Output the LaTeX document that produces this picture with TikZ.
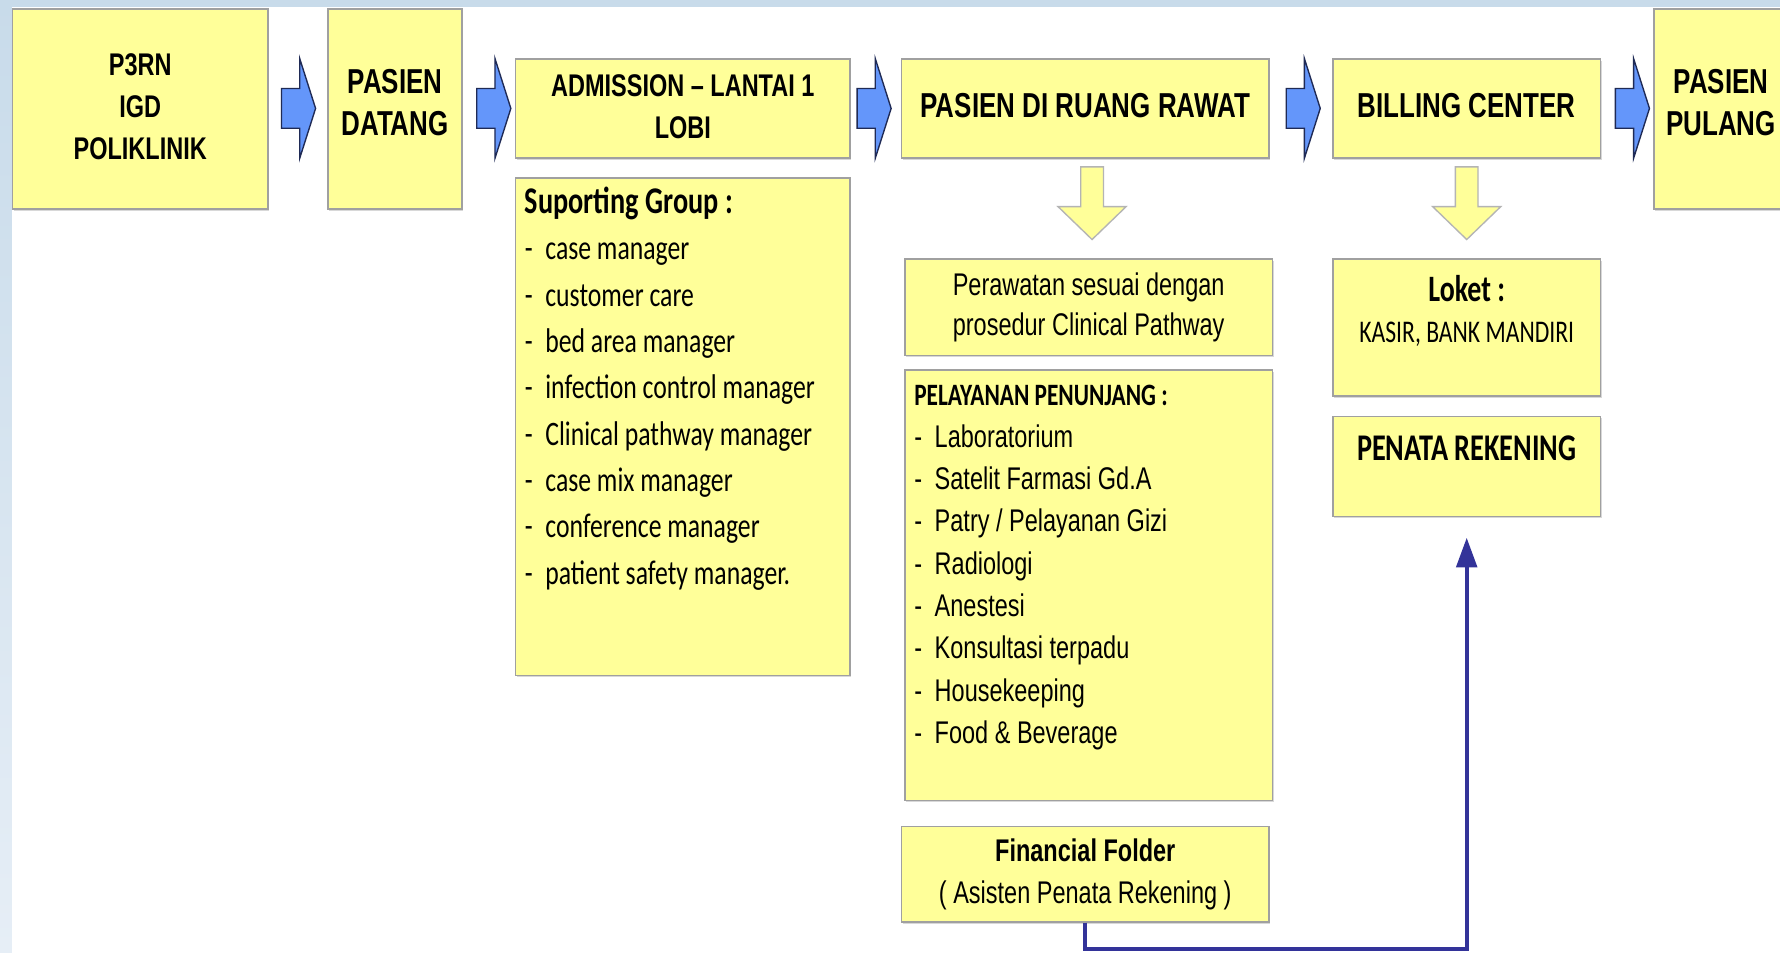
\documentclass[tikz,border=0pt]{standalone}
\usepackage{fontspec}
\usetikzlibrary{arrows.meta,shadows}
\newfontfamily\arialf[FakeStretch=0.75,Ligatures=TeX]{Liberation Sans}
\newfontfamily\calf[FakeStretch=0.75,Ligatures=TeX]{Carlito}
\newcommand\fbig{\arialf\bfseries\fontsize{15.25}{18.5}\selectfont}
\newcommand\fmid{\arialf\bfseries\fontsize{13.8}{18.5}\selectfont}
\definecolor{boxyellow}{HTML}{FFFF99}
\definecolor{boxline}{HTML}{A0A0A0}
\definecolor{arrblue}{HTML}{6496FA}
\definecolor{arrline}{HTML}{1F2A55}
\definecolor{connblue}{HTML}{333399}
\definecolor{bandblue}{HTML}{C8DBEA}
\definecolor{bandlight}{HTML}{E6EEF6}
\definecolor{darrline}{HTML}{B4B4B4}
\begin{document}
\begin{tikzpicture}[x=0.5pt,y=-0.5pt,
  ybox/.style={draw=boxline, line width=0.7pt, fill=boxyellow, inner sep=0pt, align=center,
    drop shadow={shadow xshift=0.5pt, shadow yshift=-0.8pt, opacity=0.3}},
  supitem/.style={anchor=base west, inner sep=0pt, font=\calf\fontsize{15.1}{18}\selectfont},
  pelitem/.style={anchor=base west, inner sep=0pt, font=\arialf\fontsize{13.8}{18}\selectfont},
  conn/.style={draw=connblue, line width=1.75pt, -{Triangle[length=13pt,width=9pt]}, shorten >=9pt},
  barrow/.pic={\filldraw[fill=arrblue, draw=arrline, line width=0.6pt]
      (0,-17.5) -- (16,-17.5) -- (16,-44) -- (30,0) -- (16,44) -- (16,17.5) -- (0,17.5) -- cycle;},
  darrow/.pic={\filldraw[fill=boxyellow, draw=darrline, line width=0.6pt]
      (-10,0) -- (10,0) -- (10,35) -- (30,35) -- (0,64) -- (-30,35) -- (-10,35) -- cycle;}
]
\useasboundingbox (0,0) rectangle (1568,839);
\clip (0,0) rectangle (1568,839);
\fill[white] (0,0) rectangle (1568,839);
\shade[top color=bandblue, bottom color=bandlight] (0,0) rectangle (10.5,839);
\fill[bandblue] (0,0) rectangle (1568,6);

% top row
\node[ybox, minimum width=112.5pt, minimum height=88pt, font=\fmid] (p3rn) at (123.5,96) {P3RN\\IGD\\POLIKLINIK\\[-16.5pt]};
\node[ybox, minimum width=59pt, minimum height=88pt, font=\fbig] (datang) at (348,96) {PASIEN\\DATANG\\[-13pt]};
\node[ybox, minimum width=147.5pt, minimum height=43.5pt, font=\fmid] (adm) at (601.5,95.5) {ADMISSION – LANTAI 1\\LOBI\\[-16.5pt]};
\node[ybox, minimum width=162pt, minimum height=43.5pt, font=\fbig] (rawat) at (956,95.5) {PASIEN DI RUANG RAWAT\\[-15.5pt]};
\node[ybox, minimum width=118pt, minimum height=43.5pt, font=\fbig] (billing) at (1292,95.5) {BILLING CENTER\\[-15.5pt]};
\node[ybox, minimum width=59pt, minimum height=88pt, font=\fbig] (pulang) at (1516,96) {PASIEN\\PULANG\\[-13pt]};

% block arrows
\pic at (248,95.5) {barrow};
\pic at (420,95.5) {barrow};
\pic at (755,95.5) {barrow};
\pic at (1133,95.5) {barrow};
\pic at (1423,95.5) {barrow};
\pic at (962,147) {darrow};
\pic at (1292,147) {darrow};

% supporting group
\node[ybox, minimum width=147.5pt, minimum height=219pt] (sup) at (601.5,376) {};
\node[anchor=base west, inner sep=0pt, font=\calf\bfseries\fontsize{16.6}{20}\selectfont] (suphead) at (462,188.5) {Suporting Group :};
\foreach \t [count=\i] in {case manager, customer care, bed area manager, infection control manager, Clinical pathway manager, case mix manager, conference manager, patient safety manager.}{
  \node[supitem] (supd\i) at (462,{229+40.8*(\i-1)}) {-};
  \node[supitem] (sup\i) at (480,{229+40.8*(\i-1)}) {\t};
}

% perawatan
\node[ybox, minimum width=162pt, minimum height=42.5pt, font=\arialf\fontsize{13.8}{17.5}\selectfont] (perawatan) at (959,270.5) {Perawatan sesuai dengan\\prosedur Clinical Pathway};

% pelayanan
\node[ybox, minimum width=162pt, minimum height=189.5pt] (pel) at (959,515.5) {};
\node[anchor=base west, inner sep=0pt, font=\calf\bfseries\fontsize{13.7}{16}\selectfont] (pelhead) at (805,357) {PELAYANAN PENUNJANG :};
\foreach \t [count=\i] in {Laboratorium, Satelit Farmasi Gd.A, Patry / Pelayanan Gizi, Radiologi, Anestesi, Konsultasi terpadu, Housekeeping, Food \& Beverage}{
  \node[pelitem] (peld\i) at (805,{394+37.3*(\i-1)}) {-};
  \node[pelitem] (pel\i) at (823,{394+37.3*(\i-1)}) {\t};
}

% financial folder
\node[ybox, minimum width=162pt, minimum height=42pt, font=\arialf\fontsize{13.8}{18.5}\selectfont] (fin) at (956,770) {\textbf{Financial Folder}\\( Asisten Penata Rekening )};

% loket & penata
\node[ybox, minimum width=118pt, minimum height=60.5pt] (loket) at (1292,288.5) {};
\node[anchor=base, inner sep=0pt, font=\calf\bfseries\fontsize{16.4}{20}\selectfont] (lokethead) at (1292,265.5) {Loket :};
\node[anchor=base, inner sep=0pt, font=\calf\fontsize{13.9}{17}\selectfont] (kasir) at (1292,302) {KASIR, BANK MANDIRI};
\node[ybox, minimum width=118pt, minimum height=44pt] (penata) at (1292,411) {};
\node[anchor=base, inner sep=0pt, font=\calf\bfseries\fontsize{16.6}{20}\selectfont] (penatatext) at (1292,405.5) {PENATA REKENING};

% connector
\coordinate (bot) at (1100,836);
\draw[conn] (fin.south) |- (bot) -| (penata.south);
\end{tikzpicture}
\end{document}
